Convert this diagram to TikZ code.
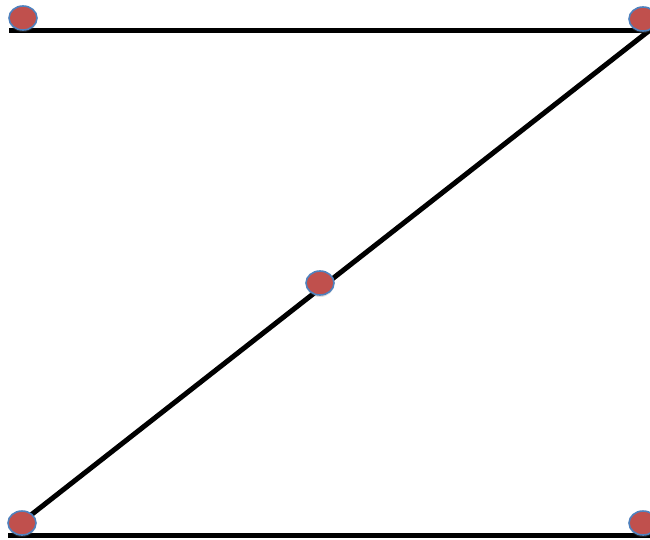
\documentclass[tikz,border=0pt]{standalone}
\usepackage{tikz}
\usetikzlibrary{shapes.geometric,shadows}

\definecolor{dotred}{RGB}{192,80,77}
\definecolor{dotblue}{RGB}{79,129,189}

\tikzset{
  dot/.style={ellipse, fill=dotred, draw=dotblue, line width=1.6pt, minimum width=28pt, minimum height=24pt, inner sep=0pt,
    drop shadow={opacity=0.25, shadow xshift=0pt, shadow yshift=-2pt}},
  bar/.style={line width=5pt, black}
}

\begin{document}
\begin{tikzpicture}[x=1pt,y=-1pt]
\useasboundingbox (0,0) rectangle (650,539);
\coordinate (tl) at (9,30);
\coordinate (tr) at (652,30);
\coordinate (bl) at (8,535);
\coordinate (br) at (652,535);
\coordinate (dtop) at (650,30);
\coordinate (dbot) at (22,522);
\draw[bar] (tl) -- (tr);
\draw[bar] (bl) -- (br);
\draw[bar] (dtop) -- (dbot);
\node[dot] (topleft) at (23,18) {};
\node[dot] (topright) at (643,19) {};
\node[dot] (middle) at (320,283) {};
\node[dot] (botleft) at (22,523) {};
\node[dot] (botright) at (643,523) {};
\end{tikzpicture}
\end{document}
